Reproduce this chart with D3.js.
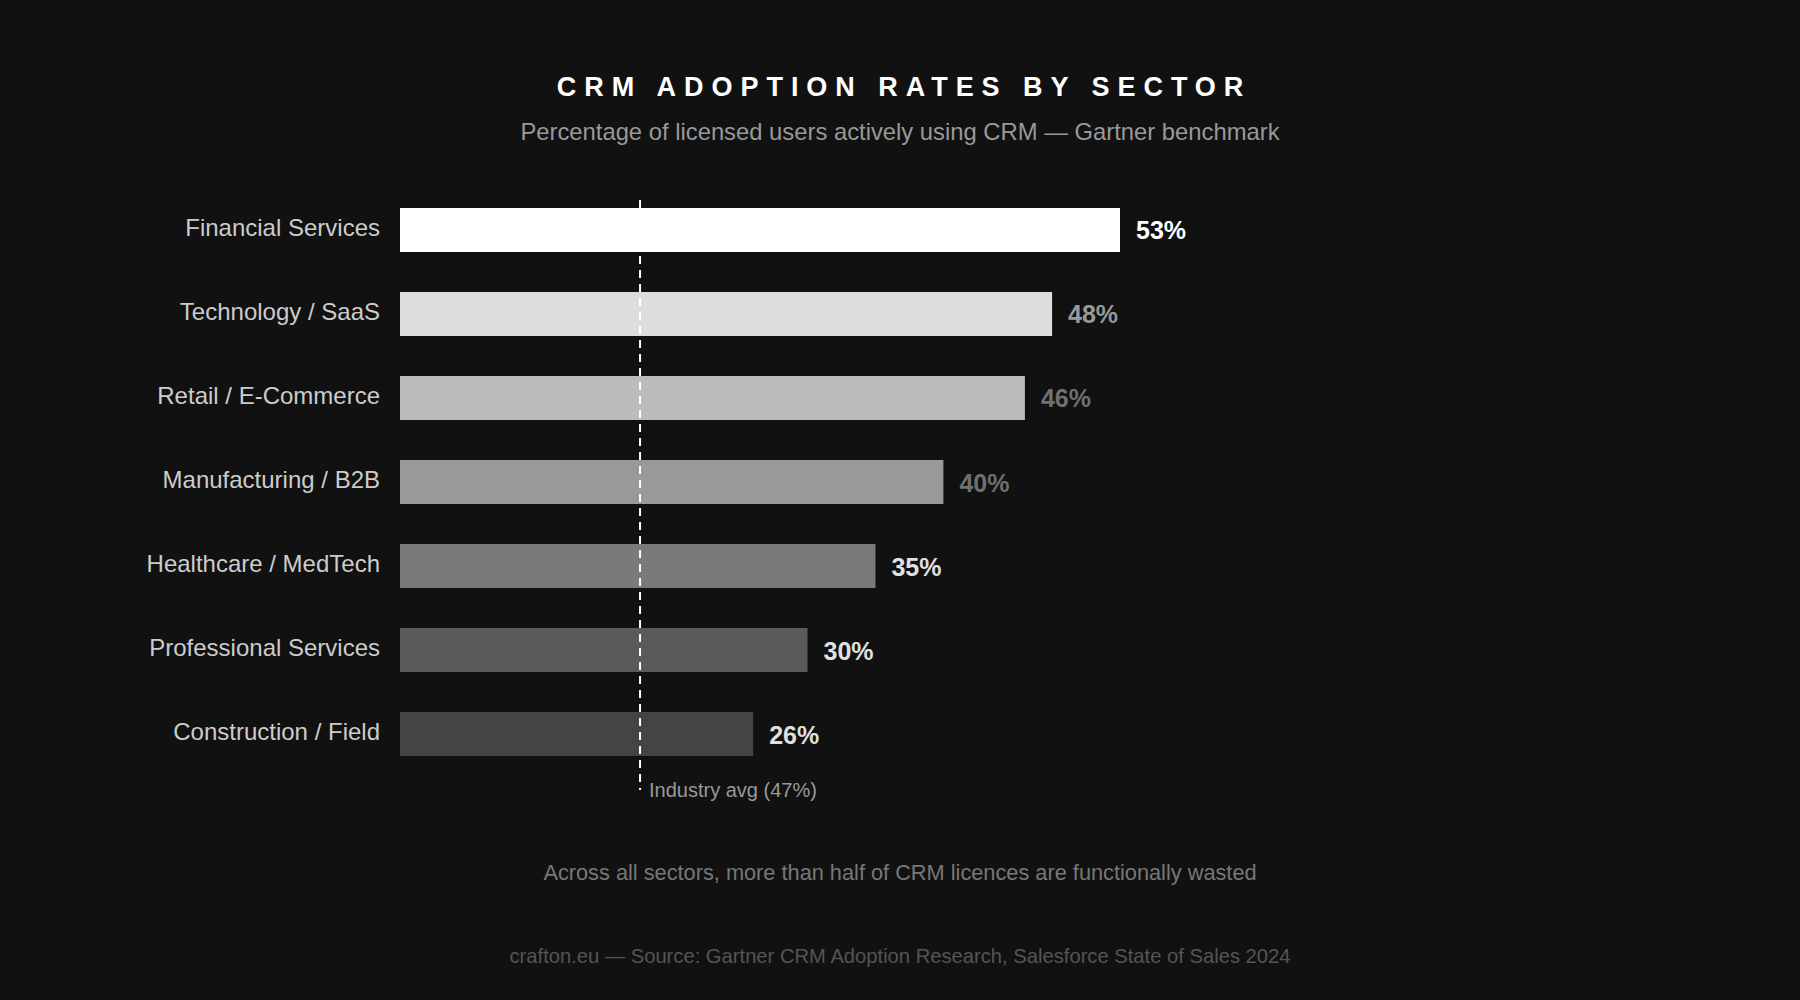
<!DOCTYPE html>
<html>
<head>
<meta charset="utf-8">
<script src="https://cdn.jsdelivr.net/npm/d3@7/dist/d3.min.js"></script>
<style>
  html, body { margin: 0; padding: 0; background: #111111; }
  svg { display: block; font-family: "Liberation Sans", Arial, sans-serif; }
</style>
</head>
<body>
<svg id="chart" width="1800" height="1000"></svg>
<script>
// ---- data ----
const categories = [
  "Financial Services",
  "Technology / SaaS",
  "Retail / E-Commerce",
  "Manufacturing / B2B",
  "Healthcare / MedTech",
  "Professional Services",
  "Construction / Field"
];
const adoptionValues = [53, 48, 46, 40, 35, 30, 26];
const barColors = ["#ffffff", "#dddddd", "#bbbbbb", "#999999", "#7a7a7a", "#5a5a5a", "#444444"];
const valueLabelColors = ["#ffffff", "#999999", "#707070", "#707070", "#e0e0e0", "#e0e0e0", "#e0e0e0"];
const industryAvg = 47;            // value shown in the reference label
const avgMarkerPosition = 17.67;   // where the dashed marker sits on the value axis in the reference

const titleText = "CRM ADOPTION RATES BY SECTOR";
const subtitleText = "Percentage of licensed users actively using CRM \u2014 Gartner benchmark";
const noteText = "Across all sectors, more than half of CRM licences are functionally wasted";
const sourceText = "crafton.eu \u2014 Source: Gartner CRM Adoption Research, Salesforce State of Sales 2024";

// ---- layout ----
const W = 1800, H = 1000;
const left = 400, barAreaWidth = 720;
const svg = d3.select("#chart");

svg.append("rect").attr("width", W).attr("height", H).attr("fill", "#111111");

const x = d3.scaleLinear().domain([0, d3.max(adoptionValues)]).range([left, left + barAreaWidth]);
const y = d3.scaleBand().domain(categories).range([168, 796]).padding(0.476);

// title
svg.append("text")
  .attr("x", W / 2 + 4).attr("y", 96)
  .attr("text-anchor", "middle")
  .attr("fill", "#ffffff")
  .attr("font-size", 27)
  .attr("font-weight", "bold")
  .attr("letter-spacing", "0.295em")
  .text(titleText);

svg.append("text")
  .attr("x", W / 2).attr("y", 140)
  .attr("text-anchor", "middle")
  .attr("fill", "#999999")
  .attr("font-size", 23.8)
  .text(subtitleText);

// bars
const rows = categories.map((c, i) => ({ c, v: adoptionValues[i], color: barColors[i], lc: valueLabelColors[i] }));

svg.append("g").selectAll("rect").data(rows).join("rect")
  .attr("x", x(0))
  .attr("y", d => y(d.c))
  .attr("width", d => x(d.v) - x(0))
  .attr("height", y.bandwidth())
  .attr("fill", d => d.color);

// category labels
svg.append("g").selectAll("text").data(rows).join("text")
  .attr("x", x(0) - 20)
  .attr("y", d => y(d.c) + y.bandwidth() / 2)
  .attr("dy", "0.26em")
  .attr("text-anchor", "end")
  .attr("fill", "#cccccc")
  .attr("font-size", 24)
  .text(d => d.c);

// value labels
svg.append("g").selectAll("text").data(rows).join("text")
  .attr("x", d => x(d.v) + 16)
  .attr("y", d => y(d.c) + y.bandwidth() / 2)
  .attr("dy", "0.38em")
  .attr("fill", d => d.lc)
  .attr("font-size", 25)
  .attr("font-weight", "bold")
  .text(d => d.v + "%");

// average marker
const ax = x(avgMarkerPosition);
svg.append("line")
  .attr("x1", ax).attr("x2", ax)
  .attr("y1", y(categories[0]) - 8)
  .attr("y2", y(categories[categories.length - 1]) + y.bandwidth() + 34)
  .attr("stroke", "#ffffff")
  .attr("stroke-width", 2)
  .attr("stroke-dasharray", "8,6");

svg.append("text")
  .attr("x", ax + 9)
  .attr("y", 797)
  .attr("fill", "#999999")
  .attr("font-size", 20)
  .text("Industry avg (" + industryAvg + "%)");

// footer notes
svg.append("text")
  .attr("x", W / 2).attr("y", 880)
  .attr("text-anchor", "middle")
  .attr("fill", "#777777")
  .attr("font-size", 21.75)
  .text(noteText);

svg.append("text")
  .attr("x", W / 2).attr("y", 963)
  .attr("text-anchor", "middle")
  .attr("fill", "#555555")
  .attr("font-size", 20.2)
  .text(sourceText);
</script>
</body>
</html>
